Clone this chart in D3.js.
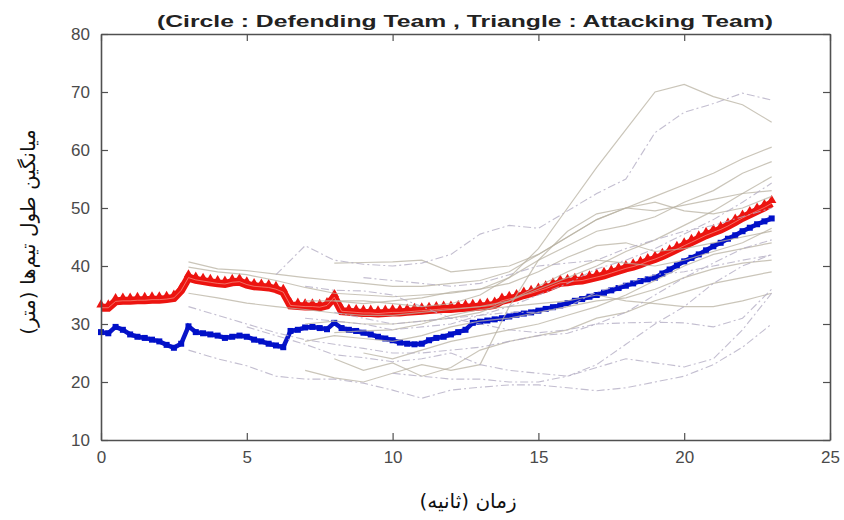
<!DOCTYPE html>
<html>
<head>
  <meta charset="utf-8">
  <title>Team length</title>
  <script src="https://d3js.org/d3.v7.min.js"></script>
  <style>
    body { margin: 0; background: #fff; }
    text { font-family: "Liberation Sans", Arial, sans-serif; }
  </style>
</head>
<body>
  <script>
    // tick labels
    const xTicks = [0, 5, 10, 15, 20, 25];
    const yTicks = [10, 20, 30, 40, 50, 60, 70, 80];

    // mean curves, sampled every 0.25 s
    const meanTime = [0,0.25,0.5,0.75,1,1.25,1.5,1.75,2,2.25,2.5,2.75,3,3.25,3.5,3.75,4,4.25,4.5,4.75,5,5.25,5.5,5.75,6,6.25,6.5,6.75,7,7.25,7.5,7.75,8,8.25,8.5,8.75,9,9.25,9.5,9.75,10,10.25,10.5,10.75,11,11.25,11.5,11.75,12,12.25,12.5,12.75,13,13.25,13.5,13.75,14,14.25,14.5,14.75,15,15.25,15.5,15.75,16,16.25,16.5,16.75,17,17.25,17.5,17.75,18,18.25,18.5,18.75,19,19.25,19.5,19.75,20,20.25,20.5,20.75,21,21.25,21.5,21.75,22,22.25,22.5,22.75,23];
    const attacking = [32.8,32.8,33.9,34.0,34.0,34.1,34.1,34.2,34.2,34.3,34.5,35.8,38.0,37.6,37.4,37.2,37.0,36.9,37.2,37.3,36.8,36.5,36.4,36.3,36.0,35.5,33.2,33.1,33.0,33.0,32.9,33.2,34.6,32.2,32.1,32.0,31.9,31.9,31.8,31.9,32.0,32.0,32.1,32.2,32.3,32.4,32.5,32.6,32.6,32.7,32.8,32.9,33.0,33.1,33.3,34.0,34.3,34.6,35.0,35.3,35.7,36.1,36.6,37.1,37.2,37.4,37.5,37.8,38.1,38.4,38.8,39.2,39.6,39.9,40.3,40.8,41.2,41.7,42.3,42.9,43.5,44.1,44.7,45.3,45.8,46.3,46.9,47.6,48.3,48.9,49.5,50.1,50.8];
    const defending = [28.6,28.4,29.5,29.0,28.2,27.8,27.6,27.3,27.0,26.4,25.9,26.6,29.6,28.6,28.4,28.2,28.0,27.6,27.8,28.0,27.8,27.3,27.0,26.6,26.3,26.0,28.8,29.0,29.4,29.5,29.3,29.1,30.2,29.3,29.0,28.8,28.5,28.2,27.8,27.5,27.2,26.8,26.6,26.5,26.6,27.2,27.6,27.8,28.2,28.6,29.0,30.2,30.4,30.6,30.8,31.0,31.3,31.6,31.8,32.0,32.3,32.6,32.9,33.2,33.6,34.0,34.3,34.7,35.0,35.4,35.8,36.2,36.6,37.0,37.4,37.7,38.0,38.7,39.4,40.1,40.8,41.4,42.0,42.7,43.4,44.0,44.7,45.3,46.0,46.6,47.2,47.7,48.2];

    // individual trials, sampled every 1 s from 3 s (null = not started)
    const trialTime = [3,4,5,6,7,8,9,10,11,12,13,14,15,16,17,18,19,20,21,22,23];
    const solidTrials = [
      [null,null,null,null,34,34,34,33.5,33,33.5,35,38,43,50,57,63.5,70,71.3,69.2,67.8,64.8],
      [40.7,39.5,39.2,38.6,38,37.5,37,36.5,36.5,37,37.5,39,42,45,48,50,52,54,56,58.5,60.5],
      [39.8,39,38.5,37.5,36.3,35.3,35,34.7,35,35.3,36,38,41,43.5,46,47,48.5,51,53,56,58],
      [35.3,34.5,33.6,33,32.5,31.9,31.5,31.5,32,32.5,33,34,36,38,40,42.5,44.5,47,49.5,52.5,55.4],
      [null,null,null,null,null,40.5,40.6,40.7,41,39,39.5,40,42,45,48,50,51,49.5,49,50,52],
      [null,null,null,null,22,20.7,20,21.5,23,22,23,33,41,46,49,50,49.5,50.5,51.5,52.5,53],
      [null,null,null,null,27,28,27.5,27,28,29.5,30.5,31,32,33,34,34.5,36,38,39.5,40.5,41],
      [null,null,null,null,null,24,22,23.3,21,22.5,25.5,27,28,29,31,32,34,35.5,37,38,39],
      [null,null,null,null,null,28.5,28.8,29,30,31.5,32.5,33,33.5,34,35,34,33.5,33,33,34,35.3],
      [null,null,null,null,null,34,33.5,34,34.5,35.5,36,37,39,41.5,43.5,44,42.5,43,44,45,46],
      [null,null,null,null,null,null,25,24,25.5,27,28,29,30,31.5,33,35,37.5,40,42,43,44],
      [null,null,null,null,30,30.5,30,30,30.5,31,32,34,36.5,39,41,40.5,40,41,42.5,44,46.5]
    ];
    const dashTrials = [
      [null,null,null,38.5,43.5,41,40.3,40,40.5,42,45.5,47,46.5,49.5,52.5,55,63,66.5,68,69.8,68.6],
      [33,31.5,30,28.5,27.3,26.5,25.8,25,25,25.5,26,27,28,28.4,30,30.2,30.3,30.2,29.5,31,36],
      [25.5,24,22.8,21,20.5,20.5,19.8,18.6,17.2,18.6,19.1,19.5,19.5,19,18.5,19,20,21,23,26,30],
      [null,null,29.5,28,26.5,24.7,24.2,23.5,24,25,23,22,21.5,21,22.5,24,23.3,22.6,24,29,35.3],
      [null,null,null,null,null,null,null,21.5,21,20.5,20.5,20,20,21,23,26.5,30,33,37,40,42],
      [null,null,null,null,36.5,35.8,35.7,35,33,31,31.5,33,35,37,39.5,41,43,45.5,48,51,54.3],
      [null,null,null,null,31,30.5,30,29,29.5,30,31.5,32,32,33,35.5,37,38.5,39,40,41,41.9],
      [null,null,null,null,null,null,38,37.5,37,36.5,37,38.5,40,40.5,41,43,44.5,46,47,48.5,50],
      [null,null,null,null,null,32,31,30,30.5,31,30,29,28.5,29,30,32,35,38,40.5,43,44.5]
    ];

    const width = 844, height = 520;
    const margin = { left: 101, right: 830, top: 34, bottom: 440 };

    const svg = d3.select('body').append('svg')
      .attr('width', width)
      .attr('height', height);

    const x = d3.scaleLinear().domain([0, 25]).range([margin.left, margin.right]);
    const y = d3.scaleLinear().domain([10, 80]).range([margin.bottom, margin.top]);

    const plot = svg.append('g');

    const trialLine = d3.line()
      .defined(d => d != null)
      .x((d, i) => x(trialTime[i]))
      .y(d => y(d));

    const meanLine = d3.line()
      .x((d, i) => x(meanTime[i]))
      .y(d => y(d));

    // defending team (blue squares)
    plot.append('path')
      .attr('d', meanLine(defending))
      .attr('fill', 'none')
      .attr('stroke', '#0a14c8')
      .attr('stroke-width', 4.5);
    plot.selectAll('.sq')
      .data(defending)
      .enter().append('path')
      .attr('class', 'sq')
      .attr('transform', (d, i) => `translate(${x(meanTime[i])},${y(d)})`)
      .attr('d', d3.symbol(d3.symbolSquare, 36))
      .attr('fill', '#0010c8');

    // attacking team (red triangles)
    plot.append('path')
      .attr('d', meanLine(attacking))
      .attr('fill', 'none')
      .attr('stroke', '#ec1410')
      .attr('stroke-width', 8);
    plot.selectAll('.tri')
      .data(attacking)
      .enter().append('path')
      .attr('class', 'tri')
      .attr('transform', (d, i) => `translate(${x(meanTime[i])},${y(d) - 3})`)
      .attr('d', d3.symbol(d3.symbolTriangle, 38))
      .attr('fill', '#ec1410');
    plot.append('path')
      .attr('d', meanLine(attacking))
      .attr('fill', 'none')
      .attr('stroke', '#f7b8a8')
      .attr('stroke-opacity', 0.7)
      .attr('stroke-width', 0.8);

    // thin trial lines on top
    plot.selectAll('.solid')
      .data(solidTrials)
      .enter().append('path')
      .attr('class', 'solid')
      .attr('d', trialLine)
      .attr('fill', 'none')
      .attr('stroke', '#b8b2a2')
      .attr('stroke-opacity', 0.75)
      .attr('stroke-width', 1.2);

    plot.selectAll('.dash')
      .data(dashTrials)
      .enter().append('path')
      .attr('class', 'dash')
      .attr('d', trialLine)
      .attr('fill', 'none')
      .attr('stroke', '#b4aec4')
      .attr('stroke-opacity', 0.8)
      .attr('stroke-width', 1.1)
      .attr('stroke-dasharray', '8,3,2,3');

    // box axes with inward ticks
    const axisColor = '#505050';
    const xAxis = svg.append('g')
      .attr('transform', `translate(0,${margin.bottom})`)
      .call(d3.axisBottom(x).tickValues(xTicks).tickSizeInner(-7).tickSizeOuter(0).tickPadding(11));
    const yAxis = svg.append('g')
      .attr('transform', `translate(${margin.left},0)`)
      .call(d3.axisLeft(y).tickValues(yTicks).tickSizeInner(-7).tickSizeOuter(0).tickPadding(11));
    const xTop = svg.append('g')
      .attr('transform', `translate(0,${margin.top})`)
      .call(d3.axisTop(x).tickValues(xTicks).tickSizeInner(-7).tickSizeOuter(0).tickFormat(''));
    const yRight = svg.append('g')
      .attr('transform', `translate(${margin.right},0)`)
      .call(d3.axisRight(y).tickValues(yTicks).tickSizeInner(-7).tickSizeOuter(0).tickFormat(''));

    [xAxis, yAxis, xTop, yRight].forEach(g => {
      g.select('.domain').attr('stroke', axisColor).attr('stroke-width', 1.6);
      g.selectAll('.tick line').attr('stroke', axisColor).attr('stroke-width', 1.2);
      g.selectAll('.tick text')
        .attr('fill', '#4a4a4a')
        .style('font-size', '17px')
        .style('font-family', '"Liberation Sans", Arial, sans-serif');
    });

    // title
    svg.append('text')
      .attr('x', 465)
      .attr('y', 27)
      .attr('text-anchor', 'middle')
      .attr('textLength', 616)
      .attr('lengthAdjust', 'spacingAndGlyphs')
      .style('font-size', '17px')
      .style('font-weight', 'bold')
      .attr('fill', '#222')
      .text('(Circle : Defending Team , Triangle : Attacking Team)');

    // axis labels
    svg.append('text')
      .attr('x', 468)
      .attr('y', 508)
      .attr('text-anchor', 'middle')
      .attr('direction', 'rtl')
      .style('font-family', '"DejaVu Sans", sans-serif')
      .style('font-size', '20px')
      .attr('fill', '#111')
      .text('زمان (ثانیه)');

    svg.append('text')
      .attr('transform', 'translate(35,232) rotate(-90)')
      .attr('text-anchor', 'middle')
      .attr('direction', 'rtl')
      .style('font-family', '"DejaVu Sans", sans-serif')
      .style('font-size', '20px')
      .attr('fill', '#111')
      .text('میانگین طول تیم‌ها (متر)');
  </script>
</body>
</html>
